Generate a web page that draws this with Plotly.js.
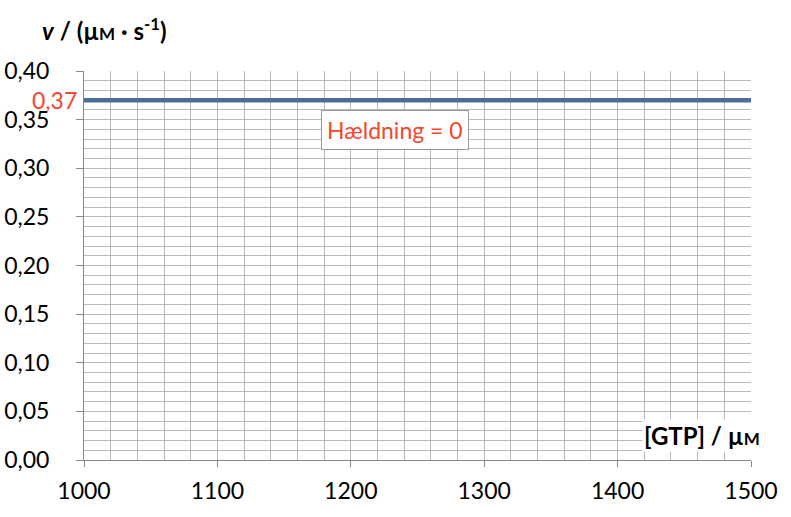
<!DOCTYPE html>
<html>
<head>
<meta charset="utf-8">
<script src="https://cdn.plot.ly/plotly-3.0.1.min.js"></script>
<style>html,body{margin:0;padding:0;background:#fff;}#chart{width:791px;height:517px;}</style>
</head>
<body>
<div id="chart"></div>
<script>
// Data
const gtp = [1000, 1500];          // [GTP] / µM
const rate = [0.37, 0.37];         // v / (µM·s^-1)
const rateLabel = "0,37";
const slopeLabel = "Hældning = 0";
const slopeX = 1233;
const slopeY = 0.339;

const FONT = "Lato, 'Liberation Sans', sans-serif";
const GRID = "#bababa";
const RED = "#f4472b";
const small = t => '<span style="font-size:17px">' + t + '</span>';

const trace = {
  x: gtp, y: rate, mode: "lines", type: "scatter",
  line: {color: "#4d6e99", width: 4.5},
  hoverinfo: "skip", showlegend: false
};

const layout = {
  width: 791, height: 517,
  margin: {l: 84, r: 40, t: 71, b: 57},
  paper_bgcolor: "#fff", plot_bgcolor: "#fff",
  separators: ", ",
  font: {family: FONT, size: 23, color: "#000"},
  xaxis: {
    range: [1000, 1500], dtick: 100, tick0: 1000,
    showgrid: true, gridcolor: GRID, gridwidth: 1,
    minor: {dtick: 20, showgrid: true, gridcolor: GRID, gridwidth: 1},
    ticks: "outside", ticklen: 6, tickcolor: "#888", tickwidth: 1,
    ticklabelstandoff: 4,
    showline: true, linecolor: "#888", linewidth: 1,
    zeroline: false, tickfont: {family: FONT, size: 23, color: "#000"}
  },
  yaxis: {
    range: [0, 0.40], dtick: 0.05, tick0: 0, tickformat: ".2f",
    showgrid: true, gridcolor: GRID, gridwidth: 1,
    minor: {dtick: 0.01, showgrid: true, gridcolor: GRID, gridwidth: 1},
    ticks: "outside", ticklen: 7, tickcolor: "#888", tickwidth: 1,
    ticklabelstandoff: 22,
    showline: true, linecolor: "#888", linewidth: 1,
    zeroline: false, tickfont: {family: FONT, size: 23, color: "#000"}
  },
  annotations: [
    {xref: "paper", yref: "y", x: 0, y: rate[0], xanchor: "right", xshift: -5, yanchor: "middle",
     text: rateLabel, showarrow: false, font: {family: FONT, size: 23, color: RED}},
    {xref: "x", yref: "y", x: slopeX, y: slopeY, xanchor: "center", yanchor: "middle",
     text: slopeLabel, showarrow: false, bgcolor: "#fff", bordercolor: "#999", borderwidth: 1, borderpad: 5,
     font: {family: FONT, size: 23, color: RED}},
    {xref: "paper", yref: "paper", x: -0.066, y: 1.107, xanchor: "left", yanchor: "middle",
     text: "<b><i>v</i> / (µ" + small("M") + " · s<sup>-1</sup>)</b>", showarrow: false,
     font: {family: FONT, size: 24, color: "#000"}},
    {xref: "paper", yref: "paper", x: 1.016, y: 0.063, xanchor: "right", yanchor: "middle",
     text: "<b>[GTP] / µ" + small("M") + "</b>", showarrow: false, bgcolor: "#fff",
     font: {family: FONT, size: 24, color: "#000"}}
  ]
};

Plotly.newPlot("chart", [trace], layout, {staticPlot: true, displayModeBar: false});
</script>
</body>
</html>
